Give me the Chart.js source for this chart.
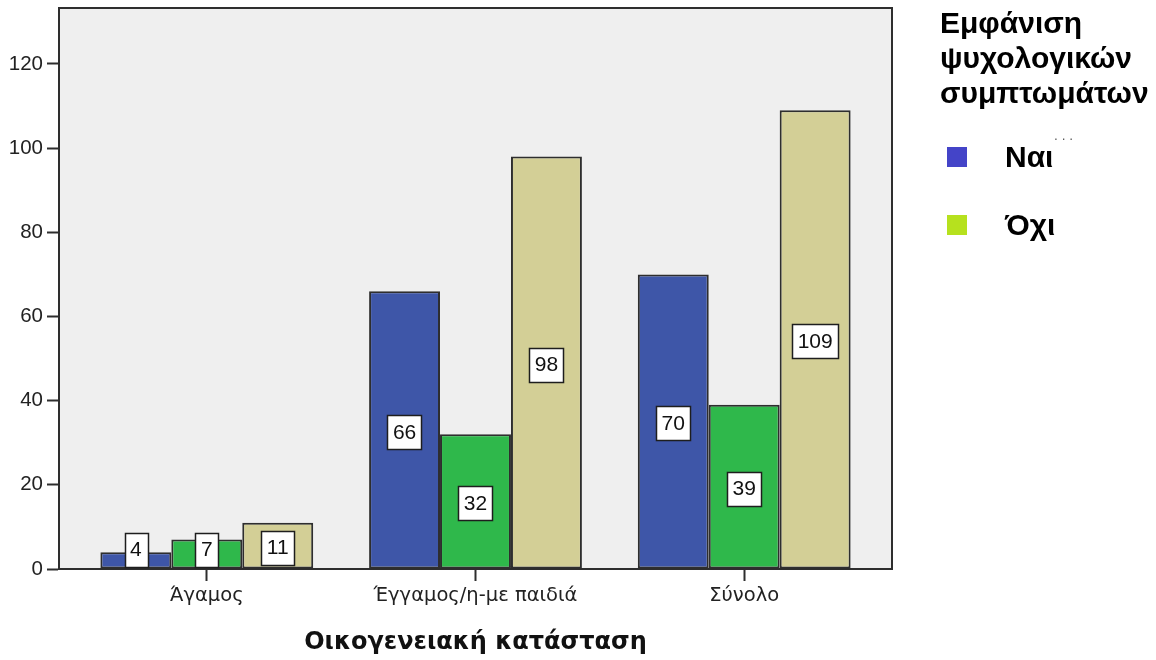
<!DOCTYPE html>
<html>
<head>
<meta charset="utf-8">
<script src="https://cdn.jsdelivr.net/npm/chart.js@4.4.1/dist/chart.umd.min.js"></script>
<style>
  html, body { margin: 0; padding: 0; background: #ffffff; }
  #wrap { width: 1156px; height: 660px; position: relative; }
</style>
</head>
<body>
<div id="wrap"><canvas id="chart" width="1156" height="660"></canvas></div>
<script>
// Categories on the x axis
const categories = ['Άγαμος', 'Έγγαμος/η-με παιδιά', 'Σύνολο'];
// Series: psychological symptoms yes / no / total
const seriesNames = ['Ναι', 'Όχι', 'Σύνολο'];
const yesValues = [4, 66, 70];
const noValues = [7, 32, 39];
const totalValues = [11, 98, 109];
// Value axis tick labels
const yTickValues = [0, 20, 40, 60, 80, 100, 120];
const yMax = 133.3;
// Texts
const xAxisTitle = 'Οικογενειακή κατάσταση';
const legendTitleLines = ['Εμφάνιση', 'ψυχολογικών', 'συμπτωμάτων'];
const legendShown = 2; // legend entries that fit; the rest is elided
// Colours
const barColors = ['#3e56a8', '#2fb84b', '#d3cf96'];
const legendColors = ['#4444c8', '#b6e11e'];
const frameColor = '#2e2e2e';
const plotBg = '#efefef';

const seriesValues = [yesValues, noValues, totalValues];

// Plot background and the top/right frame lines
const framePlugin = {
  id: 'frame',
  beforeDraw(chart) {
    const { ctx, chartArea: a } = chart;
    ctx.save();
    ctx.fillStyle = plotBg;
    ctx.fillRect(a.left, a.top, a.right - a.left, a.bottom - a.top);
    ctx.restore();
  },
  afterDraw(chart) {
    const { ctx, chartArea: a } = chart;
    ctx.save();
    ctx.strokeStyle = frameColor;
    ctx.lineWidth = 2;
    ctx.beginPath();
    ctx.moveTo(a.left, a.top);
    ctx.lineTo(a.right, a.top);
    ctx.lineTo(a.right, a.bottom);
    ctx.stroke();
    ctx.restore();
  }
};

// White boxed value labels in the middle of each bar
const valueLabelPlugin = {
  id: 'valueLabels',
  afterDatasetsDraw(chart) {
    const { ctx } = chart;
    ctx.save();
    ctx.font = '21px "Liberation Sans", Arial, sans-serif';
    ctx.textAlign = 'center';
    ctx.textBaseline = 'middle';
    chart.data.datasets.forEach((ds, i) => {
      const meta = chart.getDatasetMeta(i);
      meta.data.forEach((el, j) => {
        const p = el.getProps(['x', 'y', 'base'], true);
        const text = String(ds.data[j]);
        const w = ctx.measureText(text).width + 11;
        const h = 34;
        let cy = (p.y + p.base) / 2 + 2;
        // keep very short bars' labels from hanging far below the axis
        if (cy + h / 2 > p.base + 4) cy = p.base - 2 - h / 2;
        const bx = Math.round(p.x - w / 2) + 0.5;
        const by = Math.round(cy - h / 2) + 0.5;
        ctx.fillStyle = '#ffffff';
        ctx.fillRect(bx, by, Math.round(w), h);
        ctx.strokeStyle = '#1e1e1e';
        ctx.lineWidth = 1.5;
        ctx.strokeRect(bx, by, Math.round(w), h);
        ctx.fillStyle = '#111111';
        ctx.fillText(text, p.x, cy + 1);
      });
    });
    ctx.restore();
  }
};

// Legend on the right: bold multi-line title and square swatches
const sideLegendPlugin = {
  id: 'sideLegend',
  afterDraw(chart) {
    const { ctx } = chart;
    ctx.save();
    ctx.fillStyle = '#000000';
    ctx.textAlign = 'left';
    ctx.textBaseline = 'alphabetic';
    ctx.font = 'bold 30px "Liberation Sans", Arial, sans-serif';
    legendTitleLines.forEach((line, k) => ctx.fillText(line, 940, 33 + k * 35));
    const rowY = [147, 215];
    for (let k = 0; k < legendShown; k++) {
      ctx.fillStyle = legendColors[k];
      ctx.fillRect(947, rowY[k], 20, 20);
      ctx.fillStyle = '#000000';
      ctx.fillText(seriesNames[k], 1005, rowY[k] + 20);
    }
    ctx.fillStyle = '#555555';
    ctx.font = '12px "DejaVu Sans", sans-serif';
    ctx.fillText('. . .', 1054, 140);
    ctx.restore();
  }
};

new Chart(document.getElementById('chart').getContext('2d'), {
  type: 'bar',
  data: {
    labels: categories,
    datasets: seriesNames.map((name, i) => ({
      label: name,
      data: seriesValues[i],
      backgroundColor: barColors[i],
      borderColor: frameColor,
      borderWidth: 2,
      borderSkipped: false
    }))
  },
  options: {
    responsive: false,
    animation: false,
    events: [],
    layout: { padding: { top: 8, right: 264, left: 0, bottom: 0 } },
    datasets: { bar: { categoryPercentage: 0.792, barPercentage: 1 } },
    plugins: {
      legend: { display: false },
      tooltip: { enabled: false }
    },
    scales: {
      x: {
        offset: true,
        grid: { offset: false, drawOnChartArea: false, drawTicks: true, tickLength: 12, tickColor: frameColor, tickWidth: 2 },
        border: { display: true, color: frameColor, width: 2 },
        ticks: {
          color: '#222222',
          font: { family: '"DejaVu Sans", sans-serif', size: 19.5 },
          padding: 3,
          maxRotation: 0,
          autoSkip: false
        },
        title: {
          display: true,
          text: xAxisTitle,
          color: '#111111',
          font: { family: '"DejaVu Sans", sans-serif', size: 24, weight: 'bold' },
          padding: { top: 0, bottom: 3 }
        },
        // wider outer margins than a plain offset category axis
        afterBuildTicks: (s) => { s._startValue = -0.55; s._valueRange = 3.1; },
        afterFit: (s) => { s.height = 91; s.paddingLeft = 0; s.paddingRight = 0; }
      },
      y: {
        min: 0,
        max: yMax,
        grid: { drawOnChartArea: false, drawTicks: true, tickLength: 12, tickColor: frameColor, tickWidth: 2 },
        border: { display: true, color: frameColor, width: 2 },
        ticks: {
          color: '#222222',
          font: { family: '"Liberation Sans", Arial, sans-serif', size: 20.5 },
          padding: 4
        },
        afterBuildTicks: (s) => { s.ticks = yTickValues.map(v => ({ value: v })); },
        afterFit: (s) => { s.width = 59; s.paddingTop = 0; s.paddingBottom = 0; }
      }
    }
  },
  plugins: [framePlugin, valueLabelPlugin, sideLegendPlugin]
});
</script>
</body>
</html>
